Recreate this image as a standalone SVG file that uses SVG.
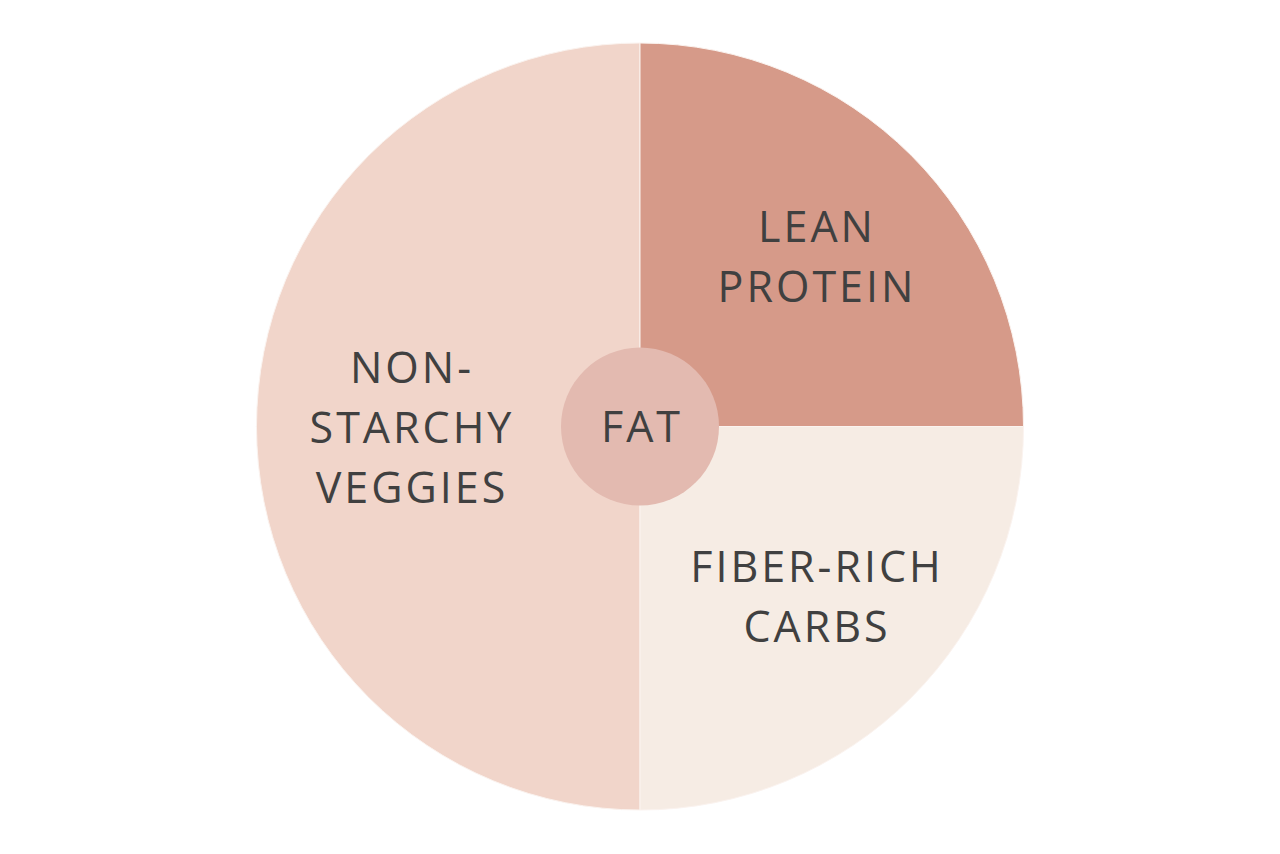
<svg xmlns="http://www.w3.org/2000/svg" width="1280" height="854" viewBox="0 0 1280 854">
<style>
.lbl{font-family:"Open Sans","Liberation Sans",sans-serif;font-size:43px;fill:#404040;letter-spacing:3px;text-anchor:middle}
.seg{stroke:#fbf3ef;stroke-width:1}
</style>
<rect width="1280" height="854" fill="#ffffff"/>
<g id="veggies">
<path class="seg" d="M640,426.5 L640,43 A383.5,383.5 0 0 0 640,810 Z" fill="#f1d5ca"/>
<text class="lbl" x="412" y="383">NON-</text>
<text class="lbl" x="412" y="443">STARCHY</text>
<text class="lbl" x="412" y="503">VEGGIES</text>
</g>
<g id="protein">
<path class="seg" d="M640,426.5 L640,43 A383.5,383.5 0 0 1 1023.5,426.5 Z" fill="#d69a89"/>
<text class="lbl" x="817" y="242">LEAN</text>
<text class="lbl" x="817" y="302">PROTEIN</text>
</g>
<g id="carbs">
<path class="seg" d="M640,426.5 L1023.5,426.5 A383.5,383.5 0 0 1 640,810 Z" fill="#f6ece4"/>
<text class="lbl" x="817" y="582">FIBER-RICH</text>
<text class="lbl" x="817" y="642">CARBS</text>
</g>
<g id="fat">
<circle cx="640" cy="426.5" r="79" fill="#e3bab0"/>
<text class="lbl" x="642" y="442">FAT</text>
</g>
</svg>
